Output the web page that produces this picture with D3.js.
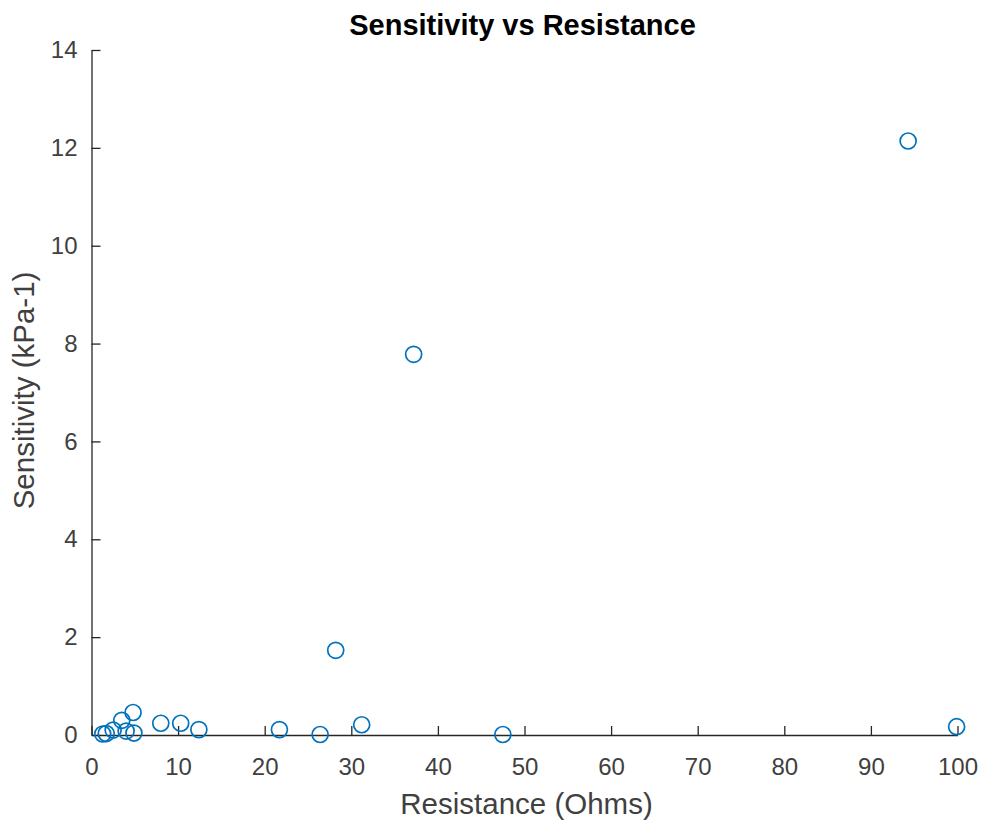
<!DOCTYPE html>
<html>
<head>
<meta charset="utf-8">
<script src="https://cdn.jsdelivr.net/npm/d3@7"></script>
<style>
  html, body { margin: 0; padding: 0; background: #fff; }
  svg { display: block; }
  text { font-family: "Liberation Sans", Arial, Helvetica, sans-serif; }
</style>
</head>
<body>
<svg id="chart" width="982" height="821"></svg>
<script>
// Data
const resistance = [1.3, 1.7, 2.5, 3.5, 4.0, 4.8, 4.9, 8.0, 10.3, 12.4, 21.7, 26.4, 28.2, 31.2, 37.2, 47.5, 94.3, 99.9];
const sensitivity = [0.02, 0.03, 0.10, 0.30, 0.08, 0.46, 0.04, 0.24, 0.24, 0.11, 0.11, 0.01, 1.73, 0.21, 7.78, 0.01, 12.14, 0.17];
const xTicks = [0, 10, 20, 30, 40, 50, 60, 70, 80, 90, 100];
const yTicks = [0, 2, 4, 6, 8, 10, 12, 14];
const titleText = "Sensitivity vs Resistance";
const xLabelText = "Resistance (Ohms)";
const yLabelText = "Sensitivity (kPa-1)";

const svg = d3.select("#chart");
const mLeft = 91.5, mRight = 957.5, mTop = 50, mBottom = 735;

const x = d3.scaleLinear().domain([0, 100]).range([mLeft, mRight]);
const y = d3.scaleLinear().domain([0, 14]).range([mBottom, mTop]);

const axisColor = "#262626";
const textColor = "#404040";
const tickLen = 9;

// X axis (ticks inward)
const xAxis = svg.append("g")
  .attr("transform", `translate(0,${mBottom})`)
  .call(d3.axisBottom(x).tickValues(xTicks).tickSizeInner(-tickLen).tickSizeOuter(0).tickPadding(tickLen + 14));
xAxis.select(".domain").attr("stroke", axisColor).attr("stroke-width", 1.3);
xAxis.selectAll(".tick line").attr("stroke", axisColor).attr("stroke-width", 1.3);
xAxis.selectAll(".tick text").attr("fill", textColor).attr("font-size", 24).attr("font-family", "Liberation Sans, Arial, sans-serif");

// Y axis (ticks inward)
const yAxis = svg.append("g")
  .attr("transform", `translate(${mLeft},0)`)
  .call(d3.axisLeft(y).tickValues(yTicks).tickSizeInner(-tickLen).tickSizeOuter(0).tickPadding(tickLen + 5));
yAxis.select(".domain").attr("stroke", axisColor).attr("stroke-width", 1.3);
yAxis.selectAll(".tick line").attr("stroke", axisColor).attr("stroke-width", 1.3);
yAxis.selectAll(".tick text").attr("fill", textColor).attr("font-size", 24).attr("font-family", "Liberation Sans, Arial, sans-serif");

// Points
const pts = resistance.map((r, i) => ({ r, s: sensitivity[i] }));
svg.append("g").selectAll("circle")
  .data(pts)
  .join("circle")
  .attr("cx", d => x(d.r))
  .attr("cy", d => y(d.s))
  .attr("r", 8)
  .attr("fill", "none")
  .attr("stroke", "#0072BD")
  .attr("stroke-width", 1.7);

// Title
svg.append("text")
  .attr("x", (mLeft + mRight) / 2 - 2)
  .attr("y", 35)
  .attr("text-anchor", "middle")
  .attr("font-size", 29)
  .attr("font-weight", "bold")
  .attr("fill", "#000")
  .text(titleText);

// X label
svg.append("text")
  .attr("x", (mLeft + mRight) / 2 + 2)
  .attr("y", 814)
  .attr("text-anchor", "middle")
  .attr("font-size", 29.5)
  .attr("fill", textColor)
  .text(xLabelText);

// Y label
svg.append("text")
  .attr("transform", `translate(34,${(mTop + mBottom) / 2 - 2}) rotate(-90)`)
  .attr("text-anchor", "middle")
  .attr("font-size", 29.5)
  .attr("fill", textColor)
  .text(yLabelText);
</script>
</body>
</html>
